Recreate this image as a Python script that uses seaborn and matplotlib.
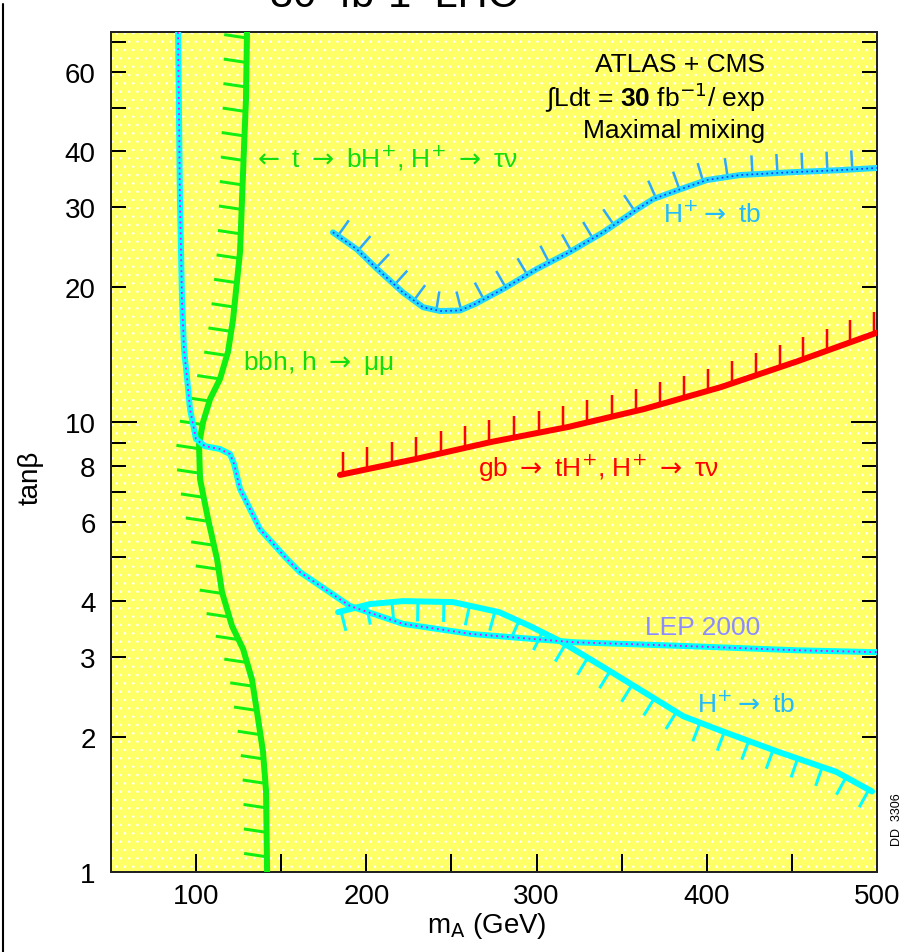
import numpy as np
import matplotlib
matplotlib.use("Agg")
import matplotlib.pyplot as plt
import seaborn as sns
from matplotlib.lines import Line2D
from matplotlib.patches import Rectangle
from matplotlib.collections import LineCollection
from matplotlib.ticker import FixedLocator, FuncFormatter

# ---------------- data ----------------
# green: t -> bH+, H+ -> tau nu  /  bbh, h -> mu mu
green_mA = [129.9, 129.3, 128.1, 125.8, 121.7, 118.7, 114.0, 108.2, 104.1, 101.7,
            102.3, 107.0, 112.3, 115.2, 121.1, 127.6, 132.8, 136.4, 139.3, 141.1, 141.7]
green_tanb = [73.6, 52.2, 40.4, 23.9, 16.9, 14.3, 12.46, 11.25, 10.0, 8.93,
              7.47, 6.09, 4.96, 4.19, 3.52, 3.13, 2.68, 2.19, 1.85, 1.51, 1.0]

# LEP 2000 exclusion
lep_mA = [89.4, 90.5, 91.7, 92.9, 94.7, 96.4, 99.9, 105.2, 114.0, 119.9, 122.3, 125.8,
          137.5, 153.4, 161.0, 190.4, 221.6, 262.0, 300.3, 322.6, 386.0, 453.0, 500.0]
lep_tanb = [73.6, 31.3, 18.8, 14.5, 12.5, 10.7, 9.17, 8.84, 8.71, 8.49, 8.07, 7.10,
            5.78, 4.96, 4.64, 3.90, 3.56, 3.38, 3.29, 3.24, 3.18, 3.11, 3.08]

# H+ -> tb (upper branch)
htb_up_mA = [180.4, 194.5, 206.3, 221.6, 233.3, 243.3, 255.0, 263.9, 280.3, 300.3,
             319.7, 339.1, 359.0, 368.5, 384.3, 400.0, 419.6, 449.0, 478.3, 500.0]
htb_up_tanb = [26.4, 24.2, 21.9, 19.4, 18.0, 17.65, 17.7, 18.3, 19.75, 21.9,
               23.9, 26.4, 29.7, 31.3, 32.9, 34.5, 35.4, 35.9, 36.3, 36.7]

# gb -> tH+, H+ -> tau nu
gb_mA = [184.5, 228.6, 273.3, 318.5, 363.2, 408.4, 453.6, 500.0]
gb_tanb = [7.63, 8.27, 9.03, 9.75, 10.69, 11.96, 13.66, 15.8]

# H+ -> tb (lower branch)
htb_lo_mA = [183.4, 202.2, 221.6, 250.9, 278.0, 296.2, 313.8, 340.8, 363.2, 386.1,
             408.4, 441.9, 476.0, 497.1]
htb_lo_tanb = [3.78, 3.94, 4.00, 3.98, 3.78, 3.52, 3.26, 2.83, 2.51, 2.22,
               2.06, 1.85, 1.67, 1.51]

x_major = [100, 200, 300, 400, 500]
x_minor = [50, 150, 250, 350, 450]
y_major = [1, 10]
y_minor = [2, 3, 4, 5, 6, 7, 8, 9, 20, 30, 40, 50, 60, 70]
y_labeled = [1, 2, 3, 4, 6, 8, 10, 20, 30, 40, 60]

# ---------------- style ----------------
sns.set_theme(style="white")
plt.rcParams["font.family"] = ["Liberation Sans", "DejaVu Sans"]
plt.rcParams["mathtext.fontset"] = "custom"
plt.rcParams["mathtext.rm"] = "DejaVu Sans"
plt.rcParams["mathtext.it"] = "DejaVu Sans:italic"
plt.rcParams["mathtext.bf"] = "Liberation Sans:bold"
plt.rcParams["mathtext.fallback"] = "stixsans"
plt.rcParams["hatch.color"] = "white"
plt.rcParams["hatch.linewidth"] = 0.6
plt.rcParams["text.color"] = "black"
plt.rcParams["axes.labelcolor"] = "black"

W, H = 905, 953
fig = plt.figure(figsize=(W / 100, H / 100), dpi=100)
L, R, T, B = 111, 877, 33, 873
ax = fig.add_axes([L / W, 1 - B / H, (R - L) / W, (B - T) / H])
ax.set_xscale("linear")
ax.set_yscale("log")
ax.set_xlim(50, 500)
ax.set_ylim(1, 73.6)

ax.set_facecolor("#FFFF66")
ax.add_patch(Rectangle((0, 0), 1, 1, transform=ax.transAxes, facecolor="none",
                       edgecolor="white", hatch="..", lw=0, zorder=0.2))

PT = 72 / 100.0  # points per pixel


def hatch(xs, ys, spacing, length, mode, color, lw, vec=None, start=6):
    pts = ax.transData.transform(np.column_stack([xs, ys]))
    seg = np.diff(pts, axis=0)
    sl = np.hypot(seg[:, 0], seg[:, 1])
    s = np.concatenate([[0], np.cumsum(sl)])
    tg = np.arange(start, s[-1] - 2, spacing)
    px = np.interp(tg, s, pts[:, 0])
    py = np.interp(tg, s, pts[:, 1])
    a = np.clip(tg - 8, 0, s[-1]); b = np.clip(tg + 8, 0, s[-1])
    tx = np.interp(b, s, pts[:, 0]) - np.interp(a, s, pts[:, 0])
    ty = np.interp(b, s, pts[:, 1]) - np.interp(a, s, pts[:, 1])
    nn = np.hypot(tx, ty); tx /= nn; ty /= nn
    if mode == "up":
        nx, ny = -ty, tx
    elif mode == "down":
        nx, ny = ty, -tx
    else:
        v = np.array(vec, float); v /= np.hypot(*v)
        nx, ny = np.full_like(px, v[0]), np.full_like(px, v[1])
    p0 = ax.transData.inverted().transform(np.column_stack([px, py]))
    p1 = ax.transData.inverted().transform(np.column_stack([px + length * nx, py + length * ny]))
    segs = [[tuple(u), tuple(w)] for u, w in zip(p0, p1)]
    ax.add_collection(LineCollection(segs, colors=color, linewidths=lw, zorder=3,
                                     capstyle="butt"))


# green curve
sns.lineplot(x=green_mA, y=green_tanb, sort=False, estimator=None, color="#11EE11",
             linewidth=6 * PT, ax=ax, zorder=4)
hatch(green_mA, green_tanb, 24.5, 23, "fixed", "#11EE11", 3 * PT, vec=(-1, 0.15))

# LEP 2000
sns.lineplot(x=lep_mA, y=lep_tanb, sort=False, estimator=None, color="#00FFFF",
             linewidth=6 * PT, ax=ax, zorder=5)
ax.plot(lep_mA, lep_tanb, color="#FF00FF", lw=1.3, ls=(0, (1, 2)), zorder=5.1)

# H+ -> tb upper
sns.lineplot(x=htb_up_mA, y=htb_up_tanb, sort=False, estimator=None, color="#22D8FF",
             linewidth=6 * PT, ax=ax, zorder=5)
ax.plot(htb_up_mA, htb_up_tanb, color="#1030FF", lw=1.2, ls=(0, (1, 2)), zorder=5.1)
hatch(htb_up_mA, htb_up_tanb, 25, 19, "up", "#2AA8FF", 2.5 * PT)

# gb -> tH+
sns.lineplot(x=gb_mA, y=gb_tanb, sort=False, estimator=None, color="#FF0000",
             linewidth=6 * PT, ax=ax, zorder=5)
hatch(gb_mA, gb_tanb, 25, 22, "fixed", "#FF0000", 2.5 * PT, vec=(0, 1), start=3)

# H+ -> tb lower
sns.lineplot(x=htb_lo_mA, y=htb_lo_tanb, sort=False, estimator=None, color="#00FFFF",
             linewidth=6 * PT, ax=ax, zorder=5)
hatch(htb_lo_mA, htb_lo_tanb, 26, 20, "down", "#00FFFF", 3 * PT, start=3)

# ---------------- axes ----------------
ax.xaxis.set_major_locator(FixedLocator(x_major))
ax.xaxis.set_minor_locator(FixedLocator(x_minor))
ax.xaxis.set_major_formatter(FuncFormatter(lambda v, p: f"{v:g}"))
ax.xaxis.set_minor_formatter(FuncFormatter(lambda v, p: ""))
ax.yaxis.set_major_locator(FixedLocator(y_major))
ax.yaxis.set_minor_locator(FixedLocator(y_minor))
fmt = FuncFormatter(lambda v, p: f"{v:g}" if round(v) in y_labeled else "")
ax.yaxis.set_major_formatter(fmt)
ax.yaxis.set_minor_formatter(fmt)

ax.tick_params(axis="x", which="both", direction="in", bottom=True, top=False,
               length=18 * PT, width=2 * PT, color="black", labelcolor="black",
               labelsize=20, pad=8)
ax.tick_params(axis="y", which="major", direction="in", left=True, right=True,
               length=26 * PT, width=2 * PT, color="black", labelcolor="black",
               labelsize=20, pad=11)
ax.tick_params(axis="y", which="minor", direction="in", left=True, right=True,
               length=15 * PT, width=2 * PT, color="black", labelcolor="black",
               labelsize=20, pad=11)
for sp in ax.spines.values():
    sp.set_color("#222222")
    sp.set_linewidth(2 * PT)

ax.set_xlabel("m$_\\mathrm{A}$ (GeV)", fontsize=20, labelpad=2, color="black")
ax.set_ylabel("tanβ", fontsize=20, color="black")
ax.yaxis.set_label_coords(-0.088, 0.47)
ax.xaxis.set_label_coords(0.49, -0.045)

# ---------------- annotations ----------------
def axpt(px, py):
    return (px - L) / (R - L), (B - py) / (B - T)

RA = "$\\rightarrow$"
LA = "$\\leftarrow$"
fs = 19
ax.text(*axpt(765, 65), "ATLAS + CMS", transform=ax.transAxes, ha="right", va="center",
        fontsize=fs, color="black", zorder=6)
ax.text(*axpt(765, 98), "∫Ldt = $\\mathbf{30}$ fb$^{-1}$/ exp", transform=ax.transAxes,
        ha="right", va="center", fontsize=fs, color="black", zorder=6)
ax.text(*axpt(765, 131), "Maximal mixing", transform=ax.transAxes, ha="right",
        va="center", fontsize=fs, color="black", zorder=6)
ax.text(*axpt(252, 158), f"{LA} t {RA} bH$^{{+}}$, H$^{{+}}$ {RA} τν",
        transform=ax.transAxes, ha="left", va="center", fontsize=fs, color="#11DD11",
        zorder=6)
ax.text(*axpt(243, 363), f"bbh, h {RA} μμ", transform=ax.transAxes, ha="left",
        va="center", fontsize=fs, color="#11DD11", zorder=6)
ax.text(*axpt(663, 215), f"H$^{{+}}${RA} tb", transform=ax.transAxes, ha="left",
        va="center", fontsize=fs, color="#22BBFF", zorder=6)
ax.text(*axpt(478, 468), f"gb {RA} tH$^{{+}}$, H$^{{+}}$ {RA} τν",
        transform=ax.transAxes, ha="left", va="center", fontsize=fs, color="#FF0000",
        zorder=6)
ax.text(*axpt(645, 628), "LEP 2000", transform=ax.transAxes, ha="left",
        va="center", fontsize=fs, color="#8C8CFF", zorder=6)
ax.text(*axpt(697, 705), f"H$^{{+}}${RA} tb", transform=ax.transAxes, ha="left",
        va="center", fontsize=fs, color="#22BBFF", zorder=6)

fig.text(897 / W, 1 - 820 / H, "DD  3306", rotation=90, ha="center", va="center",
         fontsize=9, color="black")
# title cut off at the top edge, as in the reference
fig.text(394 / W, 1 - 7 / H, "30  fb-1  LHC", ha="center", va="baseline",
         fontsize=30, color="black")
fig.add_artist(Line2D([3 / W, 3 / W], [0, 1 - 5 / H], transform=fig.transFigure,
                      color="black", lw=1.5))

fig.savefig("out.png", dpi=100)
